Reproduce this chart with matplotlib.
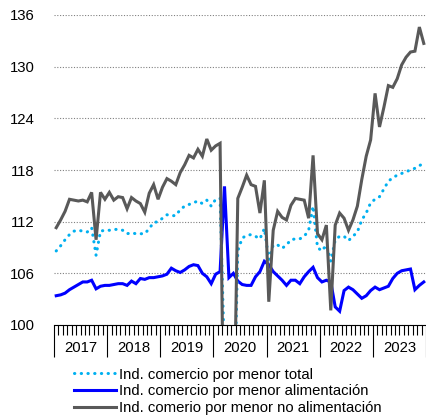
import matplotlib
matplotlib.use("Agg")
import matplotlib.pyplot as plt
import matplotlib.transforms as mtransforms
import numpy as np

plt.rcParams['font.family'] = ['Liberation Sans', 'DejaVu Sans']

years = ["2017", "2018", "2019", "2020", "2021", "2022", "2023"]
y_ticks = [100, 106, 112, 118, 124, 130, 136]

# Monthly values Jan 2017 - Dec 2023
total = [108.6, 109.2, 109.9, 110.5, 110.9, 111.0, 110.9, 110.8, 111.3, 108.1, 110.9, 111.0,
         111.0, 111.1, 111.1, 111.0, 110.6, 110.7, 110.6, 110.6, 110.6, 111.2, 111.9, 112.0,
         112.4, 112.8, 112.7, 112.7, 113.4, 113.8, 114.0, 114.2, 114.4, 114.1, 114.5, 113.8,
         114.6, 114.7, 96.0, 80.0, 86.0, 108.6, 110.1, 110.4, 110.5, 110.3, 110.0, 111.2,
         107.6, 109.3, 109.3, 108.9, 109.3, 109.9, 110.0, 110.0, 110.3, 111.0, 113.8, 109.0,
         108.6, 109.3, 107.4, 109.9, 110.3, 110.3, 109.8, 110.3, 110.8, 112.2, 113.0, 114.2,
         114.6, 114.9, 115.8, 116.7, 117.1, 117.4, 117.6, 117.8, 118.0, 118.2, 118.5, 118.8]

alimentacion = [103.4, 103.5, 103.7, 104.1, 104.4, 104.7, 105.0, 105.0, 105.2, 104.2, 104.5, 104.6,
                104.6, 104.7, 104.8, 104.8, 104.6, 105.1, 104.8, 105.4, 105.3, 105.5, 105.5, 105.6,
                105.7, 105.9, 106.6, 106.3, 106.1, 106.4, 106.8, 107.0, 106.9, 106.0, 105.6, 104.8,
                105.9, 106.2, 116.1, 105.5, 106.0, 105.1, 104.7, 104.6, 104.6, 105.6, 106.2, 107.4,
                107.0, 106.2, 105.7, 105.2, 104.6, 105.2, 105.2, 104.8, 105.6, 106.2, 106.7, 105.5,
                105.0, 105.2, 105.0, 102.1, 101.6, 104.0, 104.4, 104.1, 103.6, 103.1, 103.4, 104.0,
                104.4, 104.1, 104.3, 104.5, 105.4, 106.0, 106.3, 106.4, 106.5, 104.1, 104.6, 105.0]

no_alimentacion = [111.3, 112.2, 113.2, 114.6, 114.5, 114.4, 114.5, 114.3, 115.4, 109.9, 115.4, 114.6,
                   115.4, 114.5, 114.9, 114.8, 113.5, 114.8, 114.4, 114.1, 113.1, 115.3, 116.3, 114.6,
                   116.0, 117.0, 116.7, 116.3, 117.7, 118.6, 119.7, 119.4, 120.4, 119.6, 121.6, 120.3,
                   120.8, 121.1, 80.0, 60.0, 84.0, 114.7, 116.0, 117.4, 116.3, 116.1, 113.0, 116.8,
                   102.7, 111.0, 113.2, 112.5, 112.2, 113.9, 114.7, 114.6, 114.5, 112.4, 119.7, 110.6,
                   109.9, 111.6, 101.7, 111.6, 113.0, 112.4, 111.0, 112.2, 113.8, 116.9, 119.6, 121.5,
                   126.9, 123.0, 125.3, 127.8, 127.6, 128.6, 130.2, 131.1, 131.7, 131.8, 134.6, 132.7]

labels = ["Ind. comercio por menor total",
          "Ind. comercio por menor alimentación",
          "Ind. comerio por menor no alimentación"]

fig = plt.figure(figsize=(4.26, 4.16), dpi=100)
ax = fig.add_axes([54/426, 1-325/416, 1-54/426, (325-15)/416])

x = np.arange(len(total)) + 0.5
l1, = ax.plot(x, total, color='#00B0F0', lw=2.2, linestyle=(0, (0.1, 2.1)),
              dash_capstyle='round', zorder=3)
l2, = ax.plot(x, alimentacion, color='#0000FF', lw=2.2, zorder=2, solid_joinstyle='miter')
l3, = ax.plot(x, no_alimentacion, color='#595959', lw=2.2, zorder=4, solid_joinstyle='miter')

ax.set_ylim(100, 136)
ax.set_xlim(0, 83.8)
ax.set_yticks(y_ticks)
ax.set_yticklabels([str(v) for v in y_ticks], fontsize=10.7)
ax.tick_params(axis='y', length=0, pad=14)
ax.yaxis.grid(True, color='#808080', linestyle=(0, (1, 1.5)), linewidth=0.8)
ax.set_axisbelow(True)

for s in ['top', 'right', 'left']:
    ax.spines[s].set_visible(False)
ax.spines['bottom'].set_linewidth(0.8)
ax.spines['bottom'].set_zorder(5)

ax.set_xticks(np.arange(0, 85, 12))
ax.set_xticklabels([])
ax.set_xticks(np.arange(0, 84, 1), minor=True)
ax.tick_params(axis='x', which='major', length=23, width=0.8, direction='out')
ax.tick_params(axis='x', which='minor', length=7.2, width=0.8, direction='out')

trans = mtransforms.blended_transform_factory(ax.transData, fig.transFigure)
for i, yr in enumerate(years):
    ax.text(12*i + 6, 1 - 348/416, yr, transform=trans, ha='center', va='center',
            fontsize=10.7, clip_on=False)

fig.legend([l1, l2, l3], labels, loc='upper left', bbox_to_anchor=(74/426, 1-367.5/416),
           frameon=False, fontsize=10.7, handlelength=2.8, handletextpad=0.2,
           labelspacing=0.18, borderpad=0, borderaxespad=0)

fig.savefig('out.png', dpi=100)
